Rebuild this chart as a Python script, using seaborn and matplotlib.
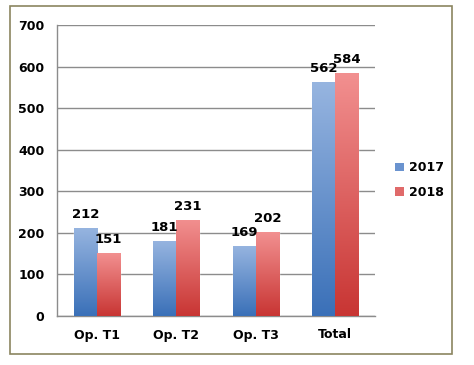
import numpy as np
import pandas as pd
import matplotlib
matplotlib.use("Agg")
import matplotlib.pyplot as plt
import seaborn as sns
from matplotlib.colors import LinearSegmentedColormap
from matplotlib.patches import Rectangle, Patch

categories = ["Op. T1", "Op. T2", "Op. T3", "Total"]
years = ["2017", "2018"]
values_2017 = [212, 181, 169, 562]
values_2018 = [151, 231, 202, 584]

df = pd.DataFrame({
    "cat": categories * 2,
    "year": [years[0]] * 4 + [years[1]] * 4,
    "value": values_2017 + values_2018,
})

blue_top, blue_bot = "#97b5e0", "#3a70b8"
red_top, red_bot = "#f29090", "#c83533"

sns.set_style("white")
plt.rcParams["font.family"] = ["DejaVu Sans"]
plt.rcParams["text.color"] = "black"
plt.rcParams["xtick.color"] = "black"
plt.rcParams["ytick.color"] = "black"

fig = plt.figure(figsize=(4.74, 3.65), dpi=100)
ax = fig.add_axes([57 / 474, 1 - 316 / 365, (375 - 57) / 474, (316 - 25) / 365])

sns.barplot(data=df, x="cat", y="value", hue="year", palette=[blue_bot, red_bot],
            width=0.58, gap=0, ax=ax, legend=False, zorder=3)

ax.set_ylim(0, 700)
ax.set_xlim(-0.5, 3.5)
ax.set_yticks(range(0, 701, 100))
ax.yaxis.grid(True, color="#8c8c8c", lw=1, zorder=0)
ax.set_axisbelow(True)
ax.set_xlabel("")
ax.set_ylabel("")

# gradient fill for each bar
grad = np.linspace(0, 1, 256).reshape(-1, 1)
for container, (top, bot) in zip(ax.containers, [(blue_top, blue_bot), (red_top, red_bot)]):
    cmap = LinearSegmentedColormap.from_list("g", [bot, top])
    for bar in container:
        x, y = bar.get_x(), bar.get_y()
        w, h = bar.get_width(), bar.get_height()
        im = ax.imshow(grad, extent=[x, x + w, y, y + h], origin="lower",
                       cmap=cmap, aspect="auto", zorder=4)
        im.set_clip_path(bar)
    ax.bar_label(container, fmt="%d", padding=5, fontsize=9.5, fontweight="bold",
                 color="black", zorder=5)
ax.set_aspect("auto")

for s in ["top", "right"]:
    ax.spines[s].set_visible(False)
for s in ["left", "bottom"]:
    ax.spines[s].set_color("#8c8c8c")
    ax.spines[s].set_linewidth(1)

ax.tick_params(axis="y", length=0, labelsize=9, pad=9)
ax.tick_params(axis="x", which="major", length=0, labelsize=9, pad=9)
ax.set_xticks([-0.5, 0.5, 1.5, 2.5, 3.5], minor=True)
ax.tick_params(axis="x", which="minor", length=4, color="#8c8c8c", direction="out")
for lbl in ax.get_xticklabels() + ax.get_yticklabels():
    lbl.set_fontweight("bold")

handles = [Patch(facecolor="#6a93cf", edgecolor="none"),
           Patch(facecolor="#e06a6a", edgecolor="none")]
fig.legend(handles, years, loc="center left", bbox_to_anchor=(384 / 474, 1 - 180 / 365),
           frameon=False, prop={"weight": "bold", "size": 9},
           handlelength=0.7, handleheight=0.7, handletextpad=0.4, labelspacing=0.9)

fig.patches.append(Rectangle((10 / 474, 1 - 354 / 365), (452 - 10) / 474, (354 - 6) / 365,
                             transform=fig.transFigure, fill=False,
                             edgecolor="#8b8560", lw=1.2))

fig.savefig("out.png", dpi=100)
